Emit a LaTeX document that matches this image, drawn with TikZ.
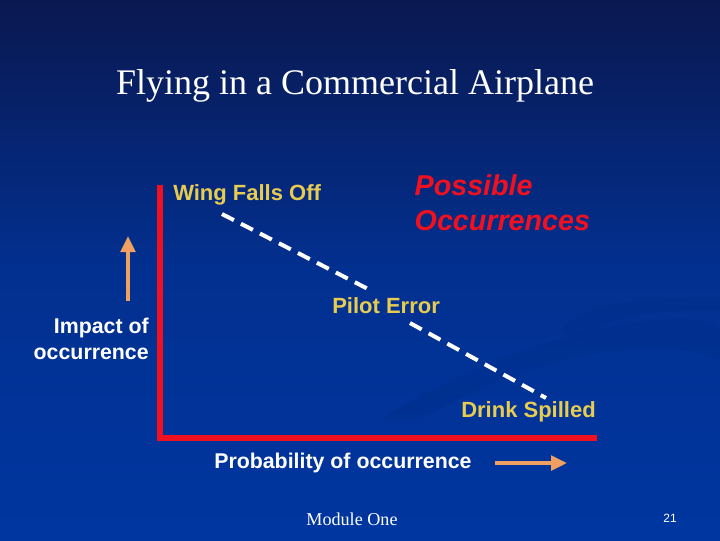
\documentclass[tikz,border=0pt]{standalone}
\usepackage{fontspec}
\setmainfont{Liberation Serif}
\newfontfamily\arial{Liberation Sans}
\usetikzlibrary{arrows.meta}
\definecolor{bgtop}{HTML}{0A1850}
\definecolor{bgbot}{HTML}{0036A0}
\definecolor{lbl}{HTML}{E8CC50}
\definecolor{axred}{HTML}{F01020}
\definecolor{arrorange}{HTML}{F0A060}
\tikzset{
 lab/.style={font=\arial\bfseries\fontsize{16.5}{19}\selectfont, text=lbl, inner sep=0pt},
 wlab/.style={font=\arial\bfseries\fontsize{16}{19.5}\selectfont, text=white, inner sep=0pt, align=right},
 dash line/.style={white, line width=3pt, dash pattern=on 10pt off 6pt},
 oarrow/.style={arrorange, line width=2.6pt, -{Triangle[length=12pt,width=11pt]}},
}
\begin{document}
\begin{tikzpicture}[x=0.75pt,y=-0.75pt]
\shade[top color=bgtop, bottom color=bgbot, middle color=bgbot!80!bgtop] (0,0) rectangle (720,540);
\useasboundingbox (0,0) rectangle (720,540);
\fill[bgbot!85!black, opacity=0.35] (380,420) .. controls (520,330) and (700,300) .. (720,330) -- (720,360) .. controls (650,330) and (520,360) .. (420,420) -- cycle;
\fill[bgbot!85!black, opacity=0.35] (560,330) .. controls (600,290) and (690,300) .. (720,300) -- (720,310) .. controls (680,310) and (610,310) .. (580,340) -- cycle;
\node[font=\fontsize{27}{31}\selectfont, text=white] (title) at (355,86) {Flying in a Commercial Airplane};
\node[font=\arial\bfseries\itshape\fontsize{21.5}{26}\selectfont, text=axred, align=left, anchor=west] (poss) at (410,203) {Possible\\Occurrences};
\node[lab, anchor=west] (wing) at (173,195) {Wing Falls Off};
\node[lab, anchor=west] (pilot) at (332,306) {Pilot Error};
\node[lab, anchor=east] (drink) at (596,412) {Drink Spilled};
\node[wlab, anchor=east] (impact) at (149,339) {Impact of\\occurrence};
\node[wlab, anchor=west] (prob) at (214,463) {Probability of occurrence};
\node[font=\fontsize{13.6}{16}\selectfont, text=white] (mod) at (352,519) {Module One};
\node[font=\arial\fontsize{9}{11}\selectfont, text=white] (num) at (670,518) {21};
\coordinate (d1) at (222,214);
\coordinate (d2) at (370,290);
\coordinate (d3) at (410,323);
\coordinate (d4) at (546,398);
\draw[dash line] (d1) -- (d2);
\draw[dash line] (d3) -- (d4);
\coordinate (ytop) at (160,185);
\coordinate (orig) at (160,438);
\coordinate (xend) at (597,438);
\draw[axred, line width=4.5pt] (ytop) -- (orig) -- (xend);
\coordinate (ua) at (128,301);
\coordinate (ub) at (128,236);
\draw[oarrow] (ua) -- (ub);
\coordinate (ra) at (495,463);
\coordinate (rb) at (567,463);
\draw[oarrow] (ra) -- (rb);
\end{tikzpicture}
\end{document}
